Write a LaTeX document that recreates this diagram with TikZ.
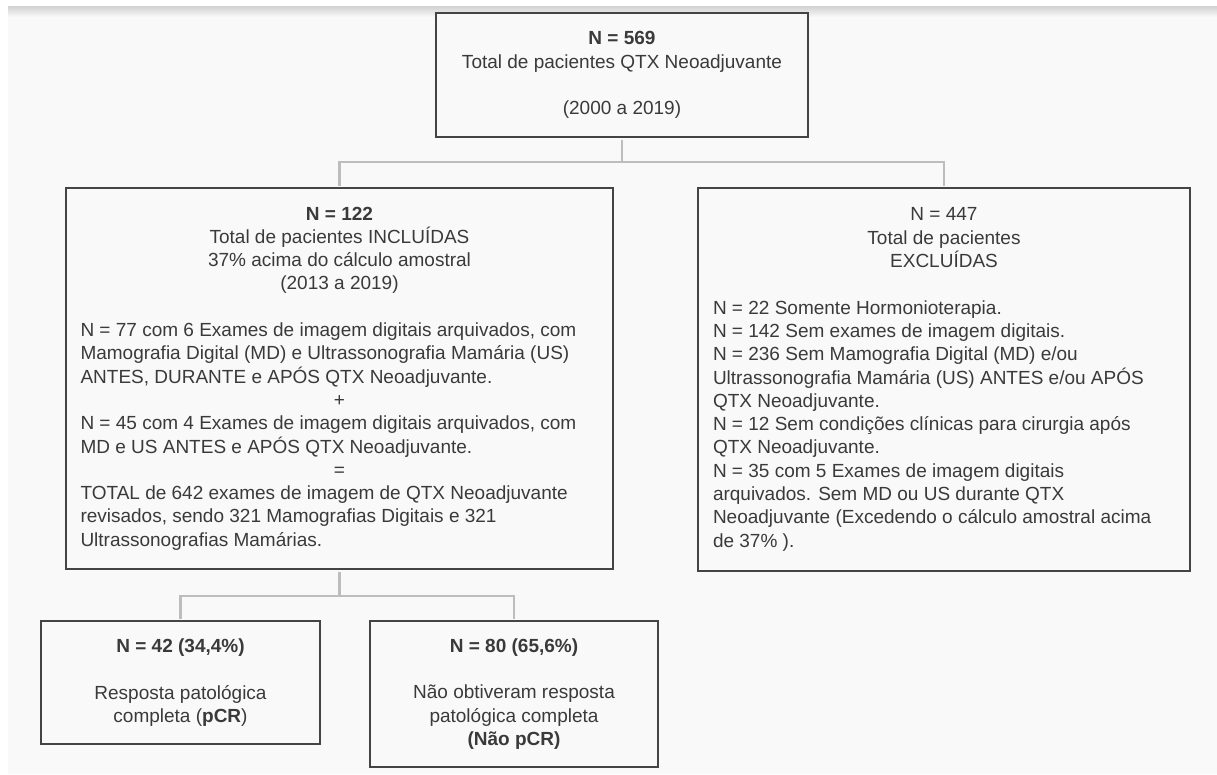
\documentclass[tikz,border=0pt]{standalone}
\usepackage{fontspec}
\setmainfont{Liberation Sans}
\usetikzlibrary{calc}

\definecolor{fundo}{HTML}{F9F9F9}
\definecolor{borda}{HTML}{444444}
\definecolor{cinzalinha}{HTML}{BDBDBD}
\definecolor{texto}{HTML}{3A3A3A}

% 左对齐的一行
\newcommand{\linha}[2]{\makebox[#1][l]{#2}}

\tikzset{
  caixa/.style={draw=borda, line width=2.5pt, fill=fundo, inner sep=0pt,
    align=center, text=texto, font=\fontsize{19}{23.3}\selectfont},
  conn/.style={draw=cinzalinha, line width=2.2pt, shorten <=1.25pt, shorten >=1.25pt},
}

\begin{document}
\begin{tikzpicture}[x=1pt,y=-1pt]
    % 背景
    \fill[white] (0,0) rectangle (1217,774);
    \fill[fundo] (8,6) rectangle (1217,774);
    \shade[top color=black!18, bottom color=fundo] (8,6) rectangle (1217,17);
    \useasboundingbox (0,0) rectangle (1217,774);

    % 方框
    \node[caixa, minimum width=372pt, minimum height=124pt] (total) at (622,75)
        {\textbf{N = 569}\\Total de pacientes QTX Neoadjuvante\\ ~ \\(2000 a 2019)};

    \node[caixa, minimum width=547pt, minimum height=381pt] (incl) at (339.5,378.5)
        {\textbf{N = 122}\\Total de pacientes INCLUÍDAS\\37\% acima do cálculo amostral\\(2013 a 2019)\\ ~ \\
        \linha{518pt}{N = 77 com 6 Exames de imagem digitais arquivados, com}\\
        \linha{518pt}{Mamografia Digital (MD) e Ultrassonografia Mamária (US)}\\
        \linha{518pt}{ANTES, DURANTE e APÓS QTX Neoadjuvante.}\\
        +\\
        \linha{518pt}{N = 45 com 4 Exames de imagem digitais arquivados, com}\\
        \linha{518pt}{MD e US ANTES e APÓS QTX Neoadjuvante.}\\
        =\\
        \linha{518pt}{TOTAL de 642 exames de imagem de QTX Neoadjuvante}\\
        \linha{518pt}{revisados, sendo 321 Mamografias Digitais e 321}\\
        \linha{518pt}{Ultrassonografias Mamárias.}};

    \node[caixa, minimum width=492pt, minimum height=383pt] (excl) at (944,379.5)
        {N = 447\\Total de pacientes\\EXCLUÍDAS\\ ~ \\
        \linha{462pt}{N = 22 Somente Hormonioterapia.}\\
        \linha{462pt}{N = 142 Sem exames de imagem digitais.}\\
        \linha{462pt}{N = 236 Sem Mamografia Digital (MD) e/ou}\\
        \linha{462pt}{Ultrassonografia Mamária (US) ANTES e/ou APÓS}\\
        \linha{462pt}{QTX Neoadjuvante.}\\
        \linha{462pt}{N = 12 Sem condições clínicas para cirurgia após}\\
        \linha{462pt}{QTX Neoadjuvante.}\\
        \linha{462pt}{N = 35 com 5 Exames de imagem digitais}\\
        \linha{462pt}{arquivados. Sem MD ou US durante QTX}\\
        \linha{462pt}{Neoadjuvante (Excedendo o cálculo amostral acima}\\
        \linha{462pt}{de 37\% ).}};

    \node[caixa, minimum width=279pt, minimum height=123pt] (pcr) at (180.5,682.5)
        {\textbf{N = 42 (34,4\%)}\\ ~ \\Resposta patológica\\completa (\textbf{pCR})};

    \node[caixa, minimum width=288pt, minimum height=146pt] (npcr) at (514,694)
        {\textbf{N = 80 (65,6\%)}\\ ~ \\Não obtiveram resposta\\patológica completa\\\textbf{(Não pCR)}};

    % 连接线
    \coordinate (garfo1) at ($(total.south)+(0,24)$);
    \coordinate (garfo2) at ($(incl.south)+(0,26)$);
    \draw[conn] (total.south) -- (garfo1);
    \draw[conn] (incl.north) |- (garfo1) -| (excl.north);
    \draw[conn] (incl.south) -- (garfo2);
    \draw[conn] (pcr.north) |- (garfo2) -| (npcr.north);
\end{tikzpicture}
\end{document}
